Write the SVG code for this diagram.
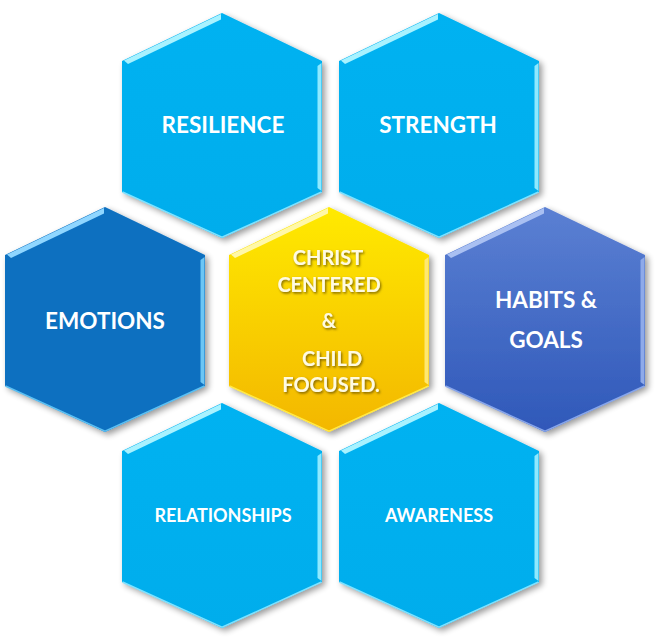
<svg xmlns="http://www.w3.org/2000/svg" xmlns:xlink="http://www.w3.org/1999/xlink" width="660" height="644" viewBox="0 0 660 644">
<style>
.lbl{font-family:Lato,"Liberation Sans",sans-serif;font-weight:bold;fill:#ffffff;text-anchor:middle}
.big{font-size:22.5px}
.small{font-size:18px}
.ctr{font-family:Lato,"Liberation Sans",sans-serif;font-weight:bold;font-size:20px;fill:#fffbe2;text-anchor:middle}
.edge{fill:none;stroke-width:1.5}
</style>
<defs>
<polygon id="hex" points="0,0 100,48 100,179 0,225 -100,179 -100,48"/>
<polygon id="hlTop" points="-98,47.5 -1,1 -1,6.5 -94,51"/>
<polygon id="hlRight" points="99.5,50 99.5,178 95.5,175 95.5,53"/>
<polyline id="lowEdge" points="-99.5,179 0,224.3 99.5,179"/>
<linearGradient id="gYellow" x1="0" y1="0" x2="0" y2="1">
<stop offset="0" stop-color="#ffea00"/>
<stop offset="1" stop-color="#f3b700"/>
</linearGradient>
<linearGradient id="gHabits" x1="0" y1="0" x2="0" y2="1">
<stop offset="0" stop-color="#5b80d3"/>
<stop offset="1" stop-color="#2f58b9"/>
</linearGradient>
<linearGradient id="gLight" x1="0" y1="0" x2="0" y2="1">
<stop offset="0" stop-color="#02b2f1"/>
<stop offset="1" stop-color="#00adec"/>
</linearGradient>
<filter id="shadow" x="-20%" y="-20%" width="140%" height="140%">
<feGaussianBlur in="SourceAlpha" stdDeviation="3"/>
<feOffset dx="3" dy="3" result="b"/>
<feComponentTransfer><feFuncA type="linear" slope="0.4"/></feComponentTransfer>
<feMerge><feMergeNode/><feMergeNode in="SourceGraphic"/></feMerge>
</filter>
<filter id="tshadow" x="-20%" y="-40%" width="140%" height="180%">
<feDropShadow dx="1.2" dy="1.5" stdDeviation="0.8" flood-color="#5a4400" flood-opacity="0.75"/>
</filter>
</defs>
<rect width="660" height="644" fill="#ffffff"/>

<g id="resilience" transform="translate(222,13)">
<use xlink:href="#hex" fill="url(#gLight)" filter="url(#shadow)"/>
<use xlink:href="#hlTop" fill="#a8f2ff"/>
<use xlink:href="#hlRight" fill="#8ee9ff"/>
<use xlink:href="#lowEdge" class="edge" stroke="#7fe2ff"/>
<text class="lbl big" x="1" y="120">RESILIENCE</text>
</g>

<g id="strength" transform="translate(439,13)">
<use xlink:href="#hex" fill="url(#gLight)" filter="url(#shadow)"/>
<use xlink:href="#hlTop" fill="#a8f2ff"/>
<use xlink:href="#hlRight" fill="#8ee9ff"/>
<use xlink:href="#lowEdge" class="edge" stroke="#7fe2ff"/>
<text class="lbl big" x="-1" y="120">STRENGTH</text>
</g>

<g id="emotions" transform="translate(105,207)">
<use xlink:href="#hex" fill="#0a6fc0" filter="url(#shadow)"/>
<use xlink:href="#hlTop" fill="#8fd6ff"/>
<use xlink:href="#hlRight" fill="#6cc6f5"/>
<use xlink:href="#lowEdge" class="edge" stroke="#5cc0f2"/>
<text class="lbl big" x="0" y="122">EMOTIONS</text>
</g>

<g id="center" transform="translate(329,207)">
<use xlink:href="#hex" fill="url(#gYellow)" filter="url(#shadow)"/>
<use xlink:href="#hlTop" fill="#fff8a8"/>
<use xlink:href="#hlRight" fill="#ffe870"/>
<use xlink:href="#lowEdge" class="edge" stroke="#ffe94a"/>
<g filter="url(#tshadow)">
<text class="ctr" x="-1" y="58">CHRIST</text>
<text class="ctr" x="0" y="85">CENTERED</text>
<text class="ctr" x="0" y="121">&amp;</text>
<text class="ctr" x="3" y="159">CHILD</text>
<text class="ctr" x="2" y="185">FOCUSED.</text>
</g>
</g>

<g id="habits" transform="translate(545,207)">
<use xlink:href="#hex" fill="url(#gHabits)" filter="url(#shadow)"/>
<use xlink:href="#hlTop" fill="#a9c0f2"/>
<use xlink:href="#hlRight" fill="#8eaaea"/>
<use xlink:href="#lowEdge" class="edge" stroke="#88a6ea"/>
<text class="lbl big" x="1" y="101">HABITS &amp;</text>
<text class="lbl big" x="1" y="141">GOALS</text>
</g>

<g id="relationships" transform="translate(222,403)">
<use xlink:href="#hex" fill="url(#gLight)" filter="url(#shadow)"/>
<use xlink:href="#hlTop" fill="#a8f2ff"/>
<use xlink:href="#hlRight" fill="#8ee9ff"/>
<use xlink:href="#lowEdge" class="edge" stroke="#7fe2ff"/>
<text class="lbl small" x="1" y="119">RELATIONSHIPS</text>
</g>

<g id="awareness" transform="translate(439,403)">
<use xlink:href="#hex" fill="url(#gLight)" filter="url(#shadow)"/>
<use xlink:href="#hlTop" fill="#a8f2ff"/>
<use xlink:href="#hlRight" fill="#8ee9ff"/>
<use xlink:href="#lowEdge" class="edge" stroke="#7fe2ff"/>
<text class="lbl small" x="0" y="119">AWARENESS</text>
</g>

<g id="connectors"></g>
</svg>
